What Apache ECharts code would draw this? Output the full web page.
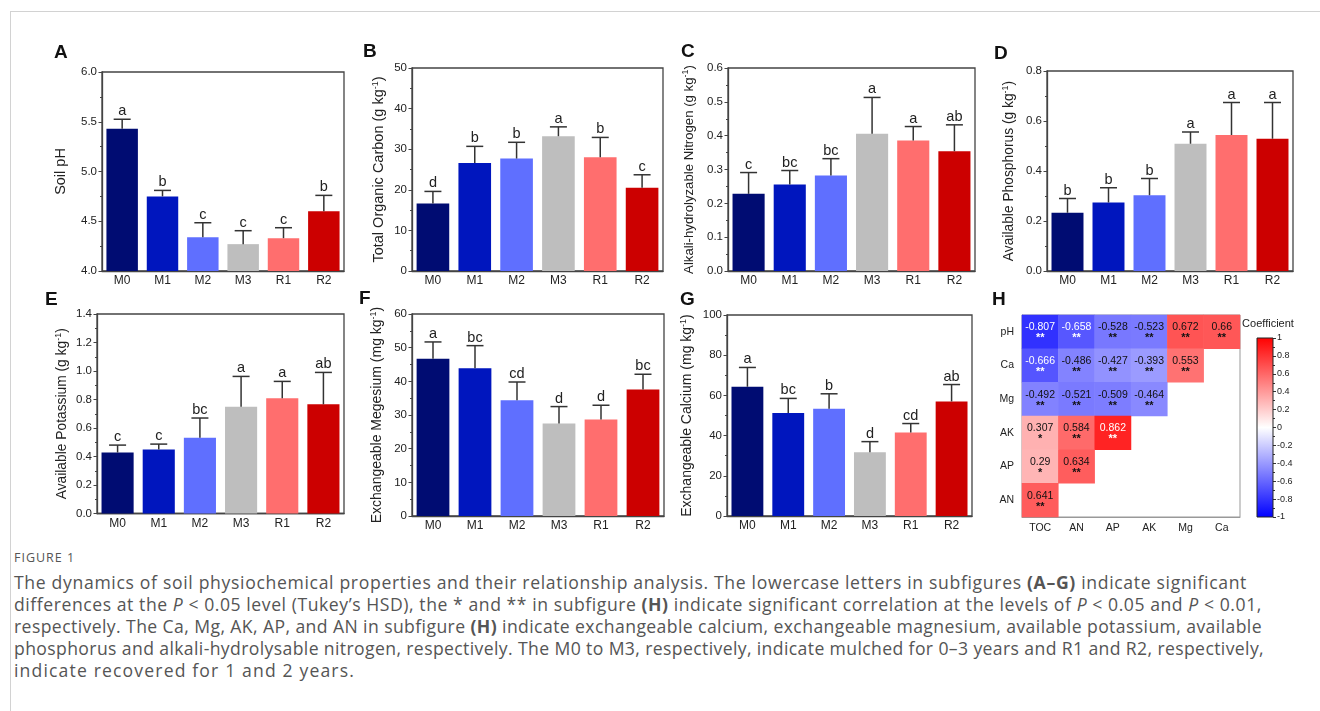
<!DOCTYPE html>
<html>
<head>
<meta charset="utf-8">
<script src="https://cdn.jsdelivr.net/npm/echarts@6/dist/echarts.min.js"></script>
<style>
html,body{margin:0;padding:0;background:#fff;}
#wrap{position:relative;width:1320px;height:711px;overflow:hidden;}
#chart{position:absolute;left:0;top:0;width:1320px;height:540px;}
.vl{position:absolute;left:10px;top:11px;width:1px;height:700px;background:#d2d2d2;}
.hl{position:absolute;left:10px;top:11px;width:1310px;height:1px;background:#d2d2d2;}
#cap{position:absolute;left:14px;top:548px;font-family:"Open Sans",Lato,sans-serif;color:#555;white-space:nowrap;}
#cap .fig{font-size:12.5px;line-height:20px;}
#cap .txt{font-size:17.6px;line-height:22px;margin-top:3px;}
#cap span.ln{display:inline-block;}
</style>
</head>
<body>
<div id="wrap">
<div class="vl"></div><div class="hl"></div>
<div id="chart"></div>
<div id="cap">
<div class="fig"><span class="ln" data-w="61">FIGURE 1</span></div>
<div class="txt"><span class="ln" data-w="1233">The dynamics of soil physiochemical properties and their relationship analysis. The lowercase letters in subfigures <b>(A–G)</b> indicate significant</span><br><span class="ln" data-w="1248">differences at the <i>P</i> &lt; 0.05 level (Tukey’s HSD), the * and ** in subfigure <b>(H)</b> indicate significant correlation at the levels of <i>P</i> &lt; 0.05 and <i>P</i> &lt; 0.01,</span><br><span class="ln" data-w="1248">respectively. The Ca, Mg, AK, AP, and AN in subfigure <b>(H)</b> indicate exchangeable calcium, exchangeable magnesium, available potassium, available</span><br><span class="ln" data-w="1250">phosphorus and alkali-hydrolysable nitrogen, respectively. The M0 to M3, respectively, indicate mulched for 0–3 years and R1 and R2, respectively,</span><br><span class="ln" data-w="341">indicate recovered for 1 and 2 years.</span></div>
</div>
</div>
<script>
// ---------- data ----------
const categories = ['M0', 'M1', 'M2', 'M3', 'R1', 'R2'];
const barColors = ['#000C72', '#0016BE', '#5F6FFF', '#BEBEBE', '#FF6E6E', '#CC0000'];

const phMean = [5.43, 4.75, 4.34, 4.27, 4.33, 4.60];
const phSd   = [0.095, 0.06, 0.145, 0.135, 0.105, 0.16];
const phSig  = ['a', 'b', 'c', 'c', 'c', 'b'];

const tocMean = [16.6, 26.6, 27.7, 33.2, 28.0, 20.5];
const tocSd   = [3.0, 4.1, 4.0, 2.3, 4.9, 3.2];
const tocSig  = ['d', 'b', 'b', 'a', 'b', 'c'];

const anMean = [0.228, 0.256, 0.282, 0.406, 0.386, 0.354];
const anSd   = [0.063, 0.041, 0.050, 0.107, 0.041, 0.078];
const anSig  = ['c', 'bc', 'bc', 'a', 'a', 'ab'];

const apMean = [0.233, 0.274, 0.303, 0.509, 0.544, 0.529];
const apSd   = [0.057, 0.059, 0.067, 0.047, 0.130, 0.145];
const apSig  = ['b', 'b', 'b', 'a', 'a', 'a'];

const akMean = [0.428, 0.450, 0.531, 0.749, 0.808, 0.766];
const akSd   = [0.052, 0.037, 0.139, 0.213, 0.119, 0.224];
const akSig  = ['c', 'c', 'bc', 'a', 'a', 'ab'];

const mgMean = [46.7, 43.9, 34.4, 27.5, 28.7, 37.6];
const mgSd   = [5.0, 6.7, 5.4, 5.0, 4.2, 4.5];
const mgSig  = ['a', 'bc', 'cd', 'd', 'd', 'bc'];

const caMean = [64.3, 51.2, 53.3, 31.7, 41.5, 57.0];
const caSd   = [9.6, 7.3, 7.5, 5.3, 4.5, 8.4];
const caSig  = ['a', 'bc', 'b', 'd', 'cd', 'ab'];

const hmCols = ['TOC', 'AN', 'AP', 'AK', 'Mg', 'Ca'];
const hmRows = ['pH', 'Ca', 'Mg', 'AK', 'AP', 'AN'];
const hmValues = [
  [-0.807, -0.658, -0.528, -0.523, 0.672, 0.66],
  [-0.666, -0.486, -0.427, -0.393, 0.553],
  [-0.492, -0.521, -0.509, -0.464],
  [0.307, 0.584, 0.862],
  [0.29, 0.634],
  [0.641]
];
const hmStars = [
  ['**', '**', '**', '**', '**', '**'],
  ['**', '**', '**', '**', '**'],
  ['**', '**', '**', '**'],
  ['*', '**', '**'],
  ['*', '**'],
  ['**']
];
const colorbarTicks = { min: -1, max: 1, interval: 0.2 };

// ---------- layout ----------
const panels = [
  { letter: 'A', mean: phMean, sd: phSd, sig: phSig, name: 'Soil pH', min: 4, max: 6, interval: 0.5, dec: 1,
    grid: { left: 102, top: 72, width: 242, height: 199 }, nameGap: 34, nameSize: 14.5, lt: [54, 43] },
  { letter: 'B', mean: tocMean, sd: tocSd, sig: tocSig, name: 'Total Organic Carbon (g kg{sup|-1})', min: 0, max: 50, interval: 10, dec: 0,
    grid: { left: 412, top: 68, width: 251, height: 203 }, nameGap: 25, nameSize: 14.5, lt: [363, 42] },
  { letter: 'C', mean: anMean, sd: anSd, sig: anSig, name: 'Alkali-hydrolyzable Nitrogen (g kg{sup|-1})', min: 0, max: 0.6, interval: 0.1, dec: 1,
    grid: { left: 728, top: 68, width: 247, height: 203 }, nameGap: 31, nameSize: 13.2, lt: [681, 42] },
  { letter: 'D', mean: apMean, sd: apSd, sig: apSig, name: 'Available Phosphorus (g kg{sup|-1})', min: 0, max: 0.8, interval: 0.2, dec: 1,
    grid: { left: 1047, top: 71, width: 246, height: 200 }, nameGap: 30, nameSize: 13.8, lt: [994, 44] },
  { letter: 'E', mean: akMean, sd: akSd, sig: akSig, name: 'Available Potassium (g kg{sup|-1})', min: 0, max: 1.4, interval: 0.2, dec: 1,
    grid: { left: 97, top: 314, width: 247, height: 199.5 }, nameGap: 27, nameSize: 13.8, lt: [45, 290] },
  { letter: 'F', mean: mgMean, sd: mgSd, sig: mgSig, name: 'Exchangeable Megesium (mg kg{sup|-1})', min: 0, max: 60, interval: 10, dec: 0,
    grid: { left: 412, top: 314, width: 252, height: 202 }, nameGap: 27, nameSize: 14, lt: [359, 289] },
  { letter: 'G', mean: caMean, sd: caSd, sig: caSig, name: 'Exchangeable Calcium (mg kg{sup|-1})', min: 0, max: 100, interval: 20, dec: 0,
    grid: { left: 727, top: 315, width: 245, height: 201 }, nameGap: 32, nameSize: 14, lt: [680, 290] }
];
const hmGrid = { left: 1022, top: 315, width: 218, height: 202 };
const cbGrid = { left: 1257, top: 338, width: 16, height: 179 };

const FONT = 'Arial, "Liberation Sans", sans-serif';
const grids = [], xAxes = [], yAxes = [], series = [], titles = [];

panels.forEach((p, i) => {
  grids.push(Object.assign({ show: true, borderColor: '#444', borderWidth: 1.3, backgroundColor: 'transparent' }, p.grid));
  xAxes.push({
    gridIndex: i, type: 'category', data: categories,
    axisLine: { lineStyle: { color: '#444', width: 1.3 } },
    axisTick: { show: false },
    axisLabel: { color: '#222', fontSize: 12, fontFamily: FONT, margin: 4 }
  });
  yAxes.push({
    gridIndex: i, type: 'value', min: p.min, max: p.max, interval: p.interval,
    name: p.name, nameLocation: 'middle', nameGap: p.nameGap,
    nameTextStyle: { color: '#222', fontSize: p.nameSize, fontFamily: FONT,
      rich: { sup: { fontSize: 9, color: '#222', fontFamily: FONT, padding: [0, 0, 7, 0] } } },
    splitLine: { show: false },
    axisLine: { show: true, lineStyle: { color: '#444', width: 1.3 } },
    axisTick: { show: true, length: 3.5, lineStyle: { color: '#444' } },
    minorTick: { show: true, splitNumber: 2, length: 2, lineStyle: { color: '#444' } },
    axisLabel: { color: '#222', fontSize: 11.5, fontFamily: FONT, margin: 5,
      formatter: v => Number(v).toFixed(p.dec) }
  });
  series.push({
    type: 'bar', xAxisIndex: i, yAxisIndex: i, barWidth: '78%',
    data: p.mean.map((v, k) => ({ value: v, itemStyle: { color: barColors[k] } })),
    silent: true
  });
  const errData = p.mean.map((v, k) => [k, v, v + p.sd[k], p.sig[k]]);
  series.push({
    type: 'custom', xAxisIndex: i, yAxisIndex: i, silent: true, z: 5,
    data: errData,
    renderItem: (params, api) => {
      const k = api.value(0);
      const base = api.coord([k, api.value(1)]);
      const top = api.coord([k, api.value(2)]);
      const half = 8.5;
      const sig = errData[params.dataIndex][3];
      return {
        type: 'group',
        children: [
          { type: 'line', shape: { x1: base[0], y1: base[1], x2: top[0], y2: top[1] }, style: { stroke: '#333', lineWidth: 1.5 } },
          { type: 'line', shape: { x1: top[0] - half, y1: top[1], x2: top[0] + half, y2: top[1] }, style: { stroke: '#333', lineWidth: 1.5 } },
          { type: 'text', style: { text: sig, x: top[0], y: top[1] - 0.5, textAlign: 'center', textVerticalAlign: 'bottom', align: 'center', verticalAlign: 'bottom',
            fontSize: 14.5, fontFamily: FONT, fill: '#222' } }
        ]
      };
    }
  });
  titles.push({ text: p.letter, left: p.lt[0], top: p.lt[1], padding: 0,
    textStyle: { fontSize: 19, fontWeight: 'bold', color: '#111', fontFamily: FONT } });
});

// heatmap
const hi = panels.length;
grids.push(Object.assign({ show: true, borderColor: '#999', borderWidth: 1, backgroundColor: 'transparent' }, hmGrid));
xAxes.push({
  gridIndex: hi, type: 'category', data: hmCols,
  axisLine: { show: true, lineStyle: { color: '#999' } }, axisTick: { show: false },
  splitLine: { show: false },
  axisLabel: { color: '#222', fontSize: 10.5, fontFamily: FONT, margin: 6 }
});
yAxes.push({
  gridIndex: hi, type: 'category', data: hmRows, inverse: true,
  axisLine: { show: true, lineStyle: { color: '#999' } }, axisTick: { show: false },
  splitLine: { show: false },
  axisLabel: { color: '#222', fontSize: 10.5, fontFamily: FONT, margin: 8 }
});
const hmData = [];
hmValues.forEach((row, r) => row.forEach((v, c) => {
  const white = v < -0.6 || v > 0.8;
  const col = white ? '#fff' : '#111';
  hmData.push({
    value: [c, r, v],
    label: { color: col, formatter: '{v|' + v + '}\n{s|' + hmStars[r][c] + '}',
      rich: { v: { fontSize: 10.5, fontFamily: FONT, color: col, lineHeight: 13 },
              s: { fontSize: 11, fontFamily: FONT, color: col, lineHeight: 9, fontWeight: 'bold' } } }
  });
}));
series.push({
  type: 'heatmap', xAxisIndex: hi, yAxisIndex: hi, data: hmData, silent: true,
  label: { show: true }
});

// colorbar
const ci = hi + 1;
grids.push(Object.assign({ show: false }, cbGrid));
xAxes.push({ gridIndex: ci, type: 'category', data: [''], show: false });
yAxes.push({
  gridIndex: ci, type: 'value', position: 'right',
  min: colorbarTicks.min, max: colorbarTicks.max, interval: colorbarTicks.interval,
  splitLine: { show: false },
  axisLine: { show: false },
  axisTick: { show: true, length: 3, lineStyle: { color: '#333' } },
  minorTick: { show: true, splitNumber: 2, length: 2, lineStyle: { color: '#333' } },
  axisLabel: { color: '#222', fontSize: 9, fontFamily: FONT, margin: 4 },
  name: 'Coefficient', nameLocation: 'end', nameGap: 9,
  nameTextStyle: { color: '#222', fontSize: 11, fontFamily: FONT, align: 'center', padding: [0, 10, 0, 0] }
});
series.push({
  type: 'custom', xAxisIndex: ci, yAxisIndex: ci, silent: true, data: [[0, colorbarTicks.max, colorbarTicks.min]],
  renderItem: (params, api) => {
    const t = api.coord([0, api.value(1)]);
    const b = api.coord([0, api.value(2)]);
    const w = api.size([1, 0])[0];
    return {
      type: 'rect',
      shape: { x: t[0] - w / 2, y: t[1], width: w, height: b[1] - t[1] },
      style: {
        fill: new echarts.graphic.LinearGradient(0, 0, 0, 1, [
          { offset: 0, color: '#ff0000' }, { offset: 0.5, color: '#ffffff' }, { offset: 1, color: '#0000ff' }
        ]),
        stroke: '#222', lineWidth: 1
      }
    };
  }
});
titles.push({ text: 'H', left: 992, top: 290, padding: 0,
  textStyle: { fontSize: 19, fontWeight: 'bold', color: '#111', fontFamily: FONT } });

const chart = echarts.init(document.getElementById('chart'), null, { renderer: 'canvas' });
chart.setOption({
  animation: false,
  backgroundColor: 'transparent',
  title: titles,
  grid: grids,
  xAxis: xAxes,
  yAxis: yAxes,
  visualMap: [{
    type: 'continuous', show: false, min: -1, max: 1, seriesIndex: series.findIndex(s => s.type === 'heatmap'),
    inRange: { color: ['#0000ff', '#ffffff', '#ff0000'] }
  }],
  series: series
});

// fit caption lines to the reference widths
document.querySelectorAll('#cap span.ln').forEach(el => {
  const target = +el.dataset.w;
  el.style.letterSpacing = '0px';
  const w = el.getBoundingClientRect().width;
  const n = el.textContent.length;
  el.style.letterSpacing = ((target - w) / n).toFixed(3) + 'px';
});
</script>
</body>
</html>
